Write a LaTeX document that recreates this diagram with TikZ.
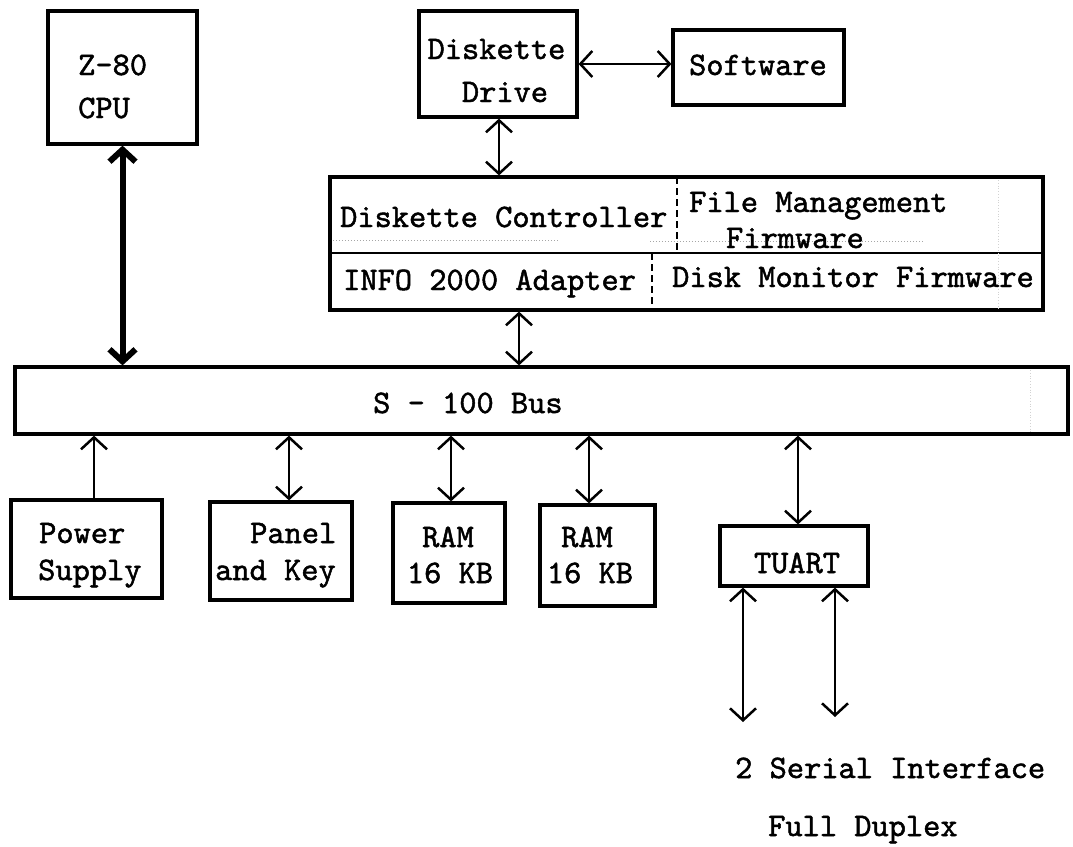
\documentclass[tikz,border=0pt]{standalone}
\usepackage{fontspec}
\newfontfamily\tw[FakeBold=1.5]{lmmono10-regular.otf}
\usetikzlibrary{arrows.meta}
\begin{document}
\begin{tikzpicture}[x=1bp,y=-1bp,
  box/.style={draw, line width=3.2bp, inner sep=0pt},
  lbl/.style={font=\tw\fontsize{32.8bp}{36bp}\selectfont, inner sep=0pt, text height=20bp, text depth=0pt},
  barb/.tip={Straight Barb[length=12bp,width=26bp]},
  dbl/.style={line width=2.5bp, barb-barb},
  sgl/.style={line width=2.5bp, -barb},
  divider/.style={line width=2bp, dash pattern=on 7bp off 4bp},
  faint/.style={gray!70, line width=1bp, dotted},
  fainter/.style={gray!35, line width=0.8bp, dotted}]
\useasboundingbox (0,0) rectangle (1073,847);
% boxes
\node[box, minimum width=149bp, minimum height=133bp] (cpu) at (122.5,77.5) {};
\node[box, minimum width=158bp, minimum height=106bp] (drive) at (498,64) {};
\node[box, minimum width=171bp, minimum height=75bp] (soft) at (758.5,67.5) {};
\node[box, minimum width=713bp, minimum height=133bp] (ctrl) at (686.5,243.5) {};
\node[box, minimum width=1053bp, minimum height=67bp] (bus) at (541.5,400.5) {};
\node[box, minimum width=151bp, minimum height=98bp] (power) at (86.5,549) {};
\node[box, minimum width=142bp, minimum height=98bp] (panel) at (281,551) {};
\node[box, minimum width=112bp, minimum height=100bp] (ram1) at (449,553) {};
\node[box, minimum width=115bp, minimum height=101bp] (ram2) at (597.5,555.5) {};
\node[box, minimum width=148bp, minimum height=60bp] (tuart) at (794,556) {};
% controller internal lines
\coordinate (midl) at (330,253);
\coordinate (midr) at (1043,253);
\draw[line width=2.8bp] (midl) -- (midr);
\draw[divider] (677,177) -- (677,253);
\draw[divider] (652,253) -- (652,310);
\draw[faint] (333,240) -- (560,240);
\draw[faint] (650,241) -- (925,241);
\draw[fainter] (998,180) -- (998,310);
\draw[fainter] (1030,370) -- (1030,432);
% texts
\node[lbl, anchor=west] (t1) at (78,65) {Z-80};
\node[lbl, anchor=west] (t2) at (78,108) {CPU};
\node[lbl] (t3) at (496.5,49) {Diskette};
\node[lbl] (t4) at (505,92) {Drive};
\node[lbl] (t5) at (758,65) {Software};
\node[lbl, anchor=west] (t6) at (340,217) {Diskette Controller};
\node[lbl, anchor=west] (t7) at (689,202) {File Management};
\node[lbl] (t8) at (795,238) {Firmware};
\node[lbl, anchor=west] (t9) at (343,280) {INFO 2000 Adapter};
\node[lbl, anchor=west] (t10) at (672,277) {Disk Monitor Firmware};
\node[lbl, anchor=west] (t11) at (373,403) {S - 100 Bus};
\node[lbl, anchor=west] (t12) at (39,533) {Power};
\node[lbl, anchor=west] (t13) at (38,570) {Supply};
\node[lbl, anchor=west] (t14) at (250,533) {Panel};
\node[lbl, anchor=west] (t15) at (215,570) {and Key};
\node[lbl] (t16) at (448,537) {RAM};
\node[lbl] (t17) at (450,573) {16 KB};
\node[lbl] (t18) at (587,537) {RAM};
\node[lbl] (t19) at (590,573) {16 KB};
\node[lbl] (t20) at (797,563) {TUART};
\node[lbl, anchor=west] (t21) at (735,768) {2 Serial Interface};
\node[lbl, anchor=west] (t22) at (768,826) {Full Duplex};
% connectors
\draw[line width=6bp, barb-barb] (cpu.south) -- (cpu.south |- bus.north);
\draw[dbl] (drive.east) -- (drive.east -| soft.west);
\draw[dbl] ([xshift=1bp]drive.south) -- ([xshift=1bp]drive.south |- ctrl.north);
\draw[dbl] ([xshift=-167.5bp]ctrl.south) -- ([xshift=-167.5bp]ctrl.south |- bus.north);
\draw[sgl] ([xshift=7.5bp]power.north) -- ([xshift=7.5bp]power.north |- bus.south);
\draw[dbl] ([xshift=8bp]panel.north |- bus.south) -- ([xshift=8bp]panel.north);
\draw[dbl] ([xshift=2bp]ram1.north |- bus.south) -- ([xshift=2bp]ram1.north);
\draw[dbl] ([xshift=-8.5bp]ram2.north |- bus.south) -- ([xshift=-8.5bp]ram2.north);
\draw[dbl] ([xshift=4bp]tuart.north |- bus.south) -- ([xshift=4bp]tuart.north);
\coordinate (s1) at (743,722);
\coordinate (s2) at (835,717);
\draw[dbl] (tuart.south -| s1) -- (s1);
\draw[dbl] (tuart.south -| s2) -- (s2);
\end{tikzpicture}
\end{document}
